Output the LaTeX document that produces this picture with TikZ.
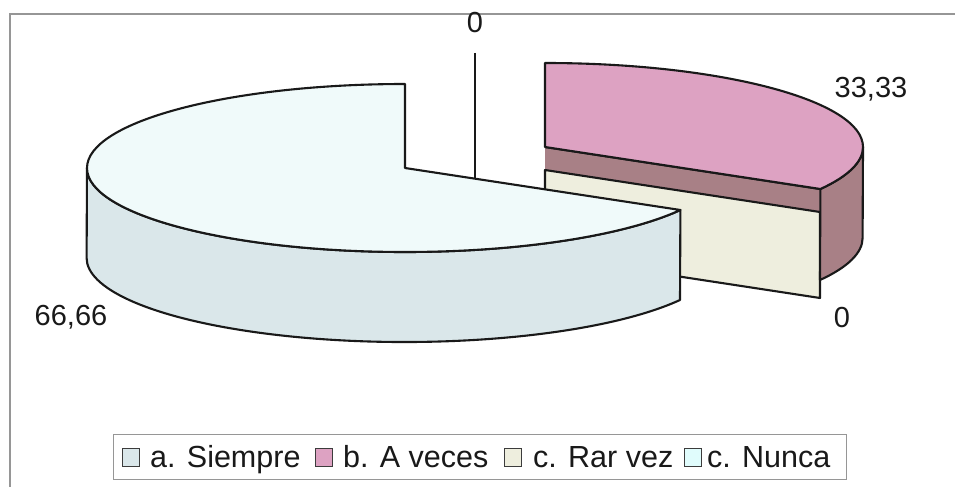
\documentclass[tikz,border=0pt]{standalone}
\usepackage{fontspec}
\setmainfont{Liberation Sans}
\definecolor{siemTop}{RGB}{240,250,250}
\definecolor{siemSide}{RGB}{218,231,234}
\definecolor{pinkTop}{RGB}{221,162,194}
\definecolor{pinkSide}{RGB}{168,128,134}
\definecolor{creamFace}{RGB}{238,238,222}
\definecolor{outline}{RGB}{25,25,25}
\definecolor{framegray}{RGB}{150,150,150}
\tikzset{
  slice/.style={draw=outline, line width=2.1pt, line join=round},
  lbl/.style={anchor=base, inner sep=0pt, font=\fontsize{29}{34}\selectfont, text=black!90},
  legtext/.style={anchor=base west, inner sep=0pt, font=\fontsize{30.5}{36}\selectfont, text=black!90},
  legsq/.style={draw=outline!85, line width=1.4pt, minimum width=17pt, minimum height=18pt, inner sep=0pt, anchor=north west},
  frameline/.style={draw=framegray, line width=1.6pt}
}
\begin{document}
\begin{tikzpicture}[x=1pt,y=-1pt]
\useasboundingbox (0,0) rectangle (955,487);
\fill[white] (0,0) rectangle (955,487);
% chart frame
\coordinate (fTL) at (10,14);
\coordinate (fTR) at (955,14);
\coordinate (fBL) at (10,487);
\draw[frameline] (fTR) -- (fTL) -- (fBL);

% ---- exploded slice b (33,33) ----
% radial face (darker)
\fill[pinkSide] (545,147) -- (820,189) -- (820,280) -- (545,238) -- cycle;
\draw[slice] (545,147) -- (820,189);
% zero slice face (cream)
\draw[slice, fill=creamFace] (545,170) -- (820,212) -- (820,298) -- (545,256) -- cycle;
% outer side
\draw[slice, fill=pinkSide] (863,147) arc[start angle=0, end angle=30, x radius=318, y radius=84]
   -- (820,280) arc[start angle=30, end angle=0, x radius=318, y radius=84] -- cycle;
% top
\draw[slice, fill=pinkTop] (545,147) -- (545,63) arc[start angle=270, end angle=390, x radius=318, y radius=84] -- cycle;

% leader line for top label
\coordinate (ldTop) at (475,53);
\coordinate (ldBot) at (475,179);
\draw[outline, line width=2.1pt] (ldTop) -- (ldBot);

% ---- slice a (66,66) ----
\draw[slice, fill=siemSide] (87,168) arc[start angle=180, end angle=30, x radius=318, y radius=84]
   -- (680,300) arc[start angle=30, end angle=180, x radius=318, y radius=84] -- cycle;
\draw[slice, fill=siemTop] (405,168) -- (405,84) arc[start angle=270, end angle=30, x radius=318, y radius=84] -- cycle;

% data labels
\node[lbl] (l0top) at (475,33) {0};
\node[lbl] (l33) at (871,97) {33,33};
\node[lbl] (l66) at (71,325) {66,66};
\node[lbl] (l0bot) at (842,327) {0};

% legend
\node[draw=framegray, line width=1.4pt, minimum width=733pt, minimum height=45pt, anchor=north west, inner sep=0pt] (legend) at (113,434) {};
\node[legsq, fill=siemSide] (sqA) at (122,448) {};
\node[legtext] (tA) at (150,467) {a. Siempre};
\node[legsq, fill=pinkTop] (sqB) at (315,448) {};
\node[legtext] (tB) at (343,467) {b. A veces};
\node[legsq, fill=creamFace] (sqC) at (504,448) {};
\node[legtext] (tC) at (533,467) {c. Rar vez};
\node[legsq, fill=siemTop!85!cyan!60!white] (sqD) at (684,448) {};
\node[legtext] (tD) at (707,467) {c. Nunca};
\end{tikzpicture}
\end{document}
